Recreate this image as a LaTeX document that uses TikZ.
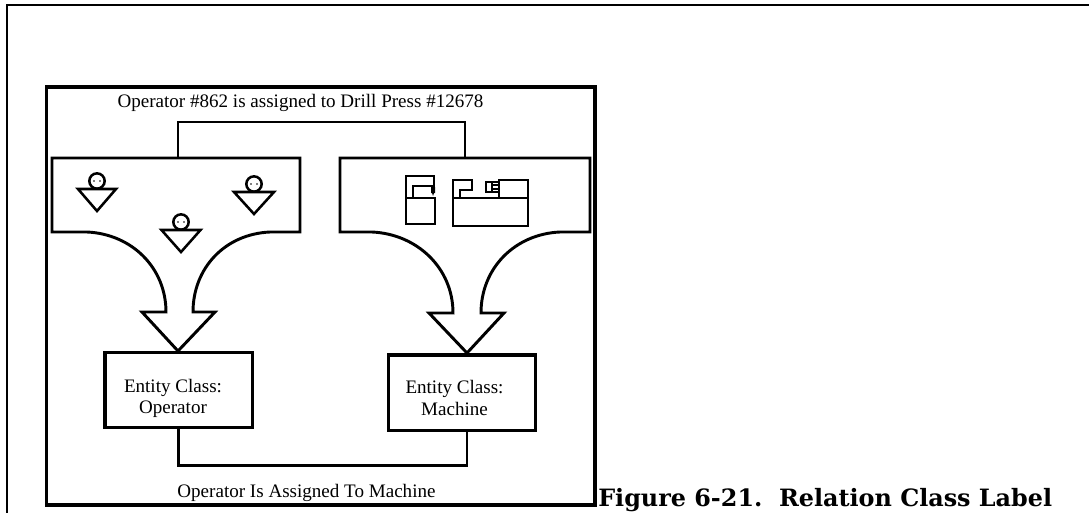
\documentclass[tikz,border=0pt]{standalone}
\usepackage{fontspec}
\setmainfont{Liberation Serif}
\newfontfamily\capfont{DejaVu Serif}
\usetikzlibrary{calc,positioning}

\begin{document}
\begin{tikzpicture}[x=0.75pt,y=-0.75pt,
	page line/.style={line width=1.6pt},
	pic line/.style={line width=2.2pt,line join=miter},
	icon line/.style={line width=1.9pt,line join=miter},
	class box/.style={draw,line width=2.5pt,minimum width=110.5pt,minimum height=56.5pt,inner sep=0pt},
	small label/.style={inner sep=0pt,align=center,font=\fontsize{14.3}{15.8}\selectfont}]
\useasboundingbox (0,0) rectangle (1089,512);
\draw[page line] (7,513) -- (7,5) -- (1090,5);
\draw[line width=2.6pt] (46.5,87) rectangle (595,505);
\node[small label,anchor=base] (toplabel) at (300.5,107) {Operator \#862 is assigned to Drill Press \#12678};
\node[small label,anchor=base] (botlabel) at (306.5,497) {Operator Is Assigned To Machine};
\node[class box] (opclass) at (178.5,390) {};
\node[class box] (macclass) at (462,392.5) {};
\node[small label] (optext) at (173,398) {Entity Class:\\Operator};
\node[small label] (mactext) at (454.5,398) {Entity Class:\\Machine};
\node[anchor=base west,inner sep=0pt,font=\capfont\bfseries\fontsize{17.9}{20}\selectfont] (caption) at (598,506) {Figure 6-21.~~Relation Class Label};
% left population
\coordinate (optip) at (178,351);
\draw[pic line] (87,232) -- (52,232) -- (52,158) -- (300,158) -- (300,232) -- (270,232)
	.. controls (225,234) and (193,268) .. (193,312) -- (215,312) -- (optip)
	-- (142,312) -- (166,312) .. controls (166,268) and (132,234) .. (87,232) -- cycle;
% right population
\coordinate (mactip) at (467,353);
\draw[pic line] (372,232) -- (340,232) -- (340,158) -- (590,158) -- (590,232) -- (560,232)
	.. controls (515,234) and (481,268) .. (481,313) -- (504,313) -- (mactip)
	-- (429,313) -- (453,313) .. controls (453,268) and (417,234) .. (372,232) -- cycle;
% links
\coordinate (oplink) at (178,158);
\coordinate (maclink) at (465,158);
\draw[pic line] (oplink) -- (178,122) -| (maclink);
\draw[pic line] (opclass.south) -- (178.5,465.5) -| (macclass.south -| mactip);
% operators
\foreach \nm/\px/\py/\w in {a/97/181/19,b/181/222/19.5,c/254/184/20}{
	\node[circle,draw,icon line,minimum size=11.5pt,inner sep=0pt] (head\nm) at (\px,\py) {};
	\draw[icon line] (\px-\w,\py+8) -- (\px+\w,\py+8) -- (\px,\py+30) -- cycle;
	\fill (\px-3,\py) circle (0.6pt);
	\fill (\px+3,\py) circle (0.6pt);
}
% drill press
\draw[icon line] (406,198) rectangle (435,224);
\draw[icon line] (406,198) -- (406,176) -- (434,176) -- (434,192);
\draw[icon line] (413,198) -- (413,186) -- (434,186);
\fill (431,187) rectangle (435,193) (432,193) -- (434,193) -- (433,196) -- cycle;
% lathe
\draw[icon line] (453,198) rectangle (528,226);
\draw[icon line] (453,198) -- (453,180) -- (472,180) -- (472,190) -- (460,190) -- (460,198);
\draw[icon line] (499,198) -- (499,180) -- (528,180) -- (528,198);
\draw[icon line] (499,182) -- (486,182) -- (486,192) -- (499,192);
\draw[icon line] (492,182) -- (492,192);
\draw[line width=0.8pt] (492,185) -- (499,185) (492,189) -- (499,189);
\end{tikzpicture}
\end{document}
